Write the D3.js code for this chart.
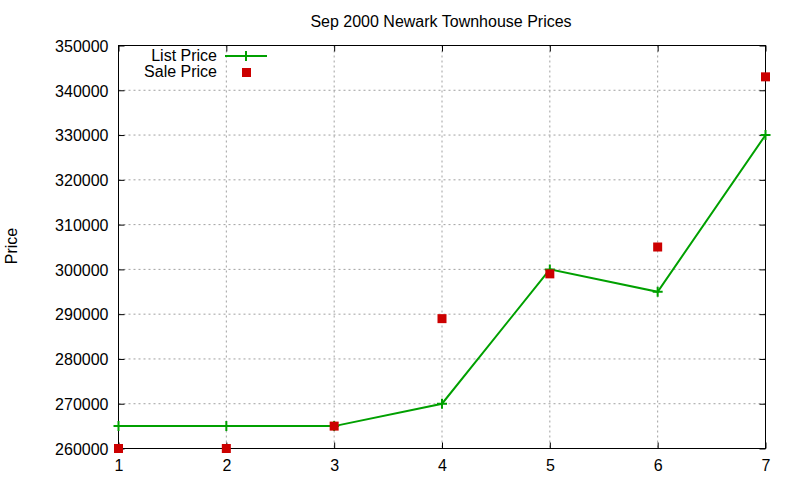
<!DOCTYPE html>
<html><head><meta charset="utf-8">
<script src="https://cdn.jsdelivr.net/npm/d3@7"></script>
<style>body{margin:0;background:#fff}svg{display:block}text{font-family:"Liberation Sans",Arial,sans-serif}</style>
</head><body>
<script>
const categories = [1, 2, 3, 4, 5, 6, 7];
const listPrice = [265000, 265000, 265000, 270000, 300000, 295000, 330000];
const salePrice = [260000, 260000, 265000, 289000, 299000, 305000, 343000];
const yTicks = [260000, 270000, 280000, 290000, 300000, 310000, 320000, 330000, 340000, 350000];
const xTicks = [1, 2, 3, 4, 5, 6, 7];

const W = 800, H = 480;
const L = 118.5, R = 765.5, T = 45.5, B = 448.5;
const svg = d3.select("body").append("svg").attr("width", W).attr("height", H);
const x = d3.scaleLinear().domain([1, 7]).range([L, R]);
const y = d3.scaleLinear().domain([260000, 350000]).range([B, T]);

// grid
const g = svg.append("g");
g.selectAll("line.vg").data(xTicks.slice(1, -1)).join("line")
  .attr("x1", d => x(d)).attr("x2", d => x(d)).attr("y1", T).attr("y2", B)
  .attr("stroke", "#a0a0a0").attr("stroke-dasharray", "2,3").attr("stroke-width", 1);
g.selectAll("line.hg").data(yTicks.slice(1, -1)).join("line")
  .attr("y1", d => y(d)).attr("y2", d => y(d)).attr("x1", L).attr("x2", R)
  .attr("stroke", "#a0a0a0").attr("stroke-dasharray", "2,3").attr("stroke-width", 1);

// axes (ticks inside, mirrored)
const fmt = d3.format("d");
const ax = [
  d3.axisLeft(y).tickValues(yTicks).tickSizeInner(-6).tickSizeOuter(0).tickPadding(10).tickFormat(fmt),
];
const yl = svg.append("g").attr("transform", `translate(${L},0)`).call(ax[0]);
const yr = svg.append("g").attr("transform", `translate(${R},0)`).call(d3.axisRight(y).tickValues(yTicks).tickSizeInner(-6).tickSizeOuter(0).tickFormat(""));
const xb = svg.append("g").attr("transform", `translate(0,${B})`).call(d3.axisBottom(x).tickValues(xTicks).tickSizeInner(-6).tickSizeOuter(0).tickPadding(10).tickFormat(fmt));
const xt = svg.append("g").attr("transform", `translate(0,${T})`).call(d3.axisTop(x).tickValues(xTicks).tickSizeInner(-6).tickSizeOuter(0).tickFormat(""));
[yl, yr, xb, xt].forEach(a => {
  a.select(".domain").remove();
  a.selectAll("line").attr("stroke", "#000");
  a.selectAll("text").attr("font-size", 16).attr("fill", "#000").attr("font-family", "Liberation Sans, Arial, sans-serif");
});
yl.selectAll("text").attr("dy", "0.36em");
xb.selectAll("text").attr("dy", "0.75em");

// border
svg.append("rect").attr("x", L).attr("y", T).attr("width", R - L).attr("height", B - T)
  .attr("fill", "none").attr("stroke", "#000").attr("stroke-width", 1);

// list price line
const line = d3.line().x((d, i) => x(categories[i])).y(d => y(d));
svg.append("path").datum(listPrice).attr("d", line).attr("fill", "none")
  .attr("stroke", "#00a000").attr("stroke-width", 2);
const plus = (sel, cx, cy) => sel.append("path")
  .attr("d", `M${cx - 5},${cy}H${cx + 5}M${cx},${cy - 5}V${cy + 5}`)
  .attr("stroke", "#00a000").attr("stroke-width", 2);
listPrice.forEach((v, i) => plus(svg, x(categories[i]), y(v)));

// sale price squares
svg.selectAll("rect.sp").data(salePrice).join("rect")
  .attr("x", (d, i) => x(categories[i]) - 4.5).attr("y", d => y(d) - 4.5)
  .attr("width", 9).attr("height", 9).attr("fill", "#cc0000");

// title & labels
svg.append("text").attr("x", 441).attr("y", 27).attr("text-anchor", "middle")
  .attr("font-size", 16).text("Sep 2000 Newark Townhouse Prices");
svg.append("text").attr("transform", "translate(17,246) rotate(-90)").attr("text-anchor", "middle")
  .attr("font-size", 16).text("Price");

// legend
svg.append("text").attr("x", 217).attr("y", 61).attr("text-anchor", "end").attr("font-size", 16).text("List Price");
svg.append("line").attr("x1", 225).attr("x2", 267).attr("y1", 56).attr("y2", 56).attr("stroke", "#00a000").attr("stroke-width", 2);
plus(svg, 246, 56);
svg.append("text").attr("x", 217).attr("y", 77).attr("text-anchor", "end").attr("font-size", 16).text("Sale Price");
svg.append("rect").attr("x", 242).attr("y", 68).attr("width", 9).attr("height", 9).attr("fill", "#cc0000");
</script>
</body></html>
